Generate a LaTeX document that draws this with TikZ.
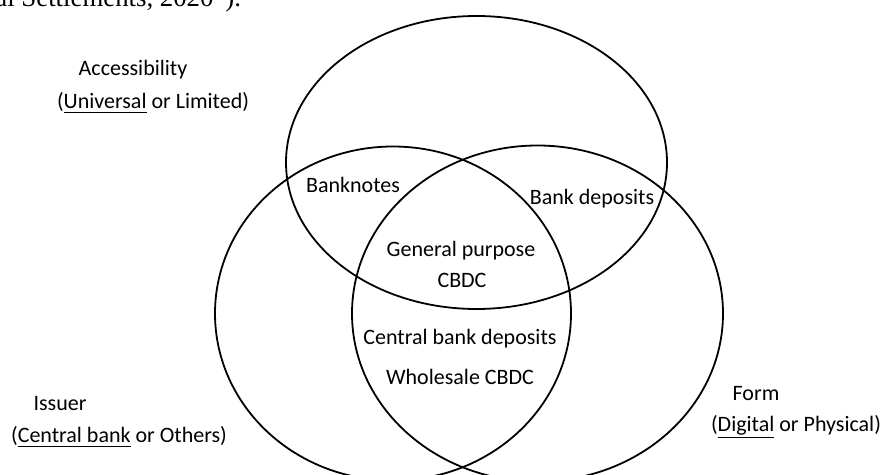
\documentclass[tikz,border=0pt]{standalone}
\usepackage{fontspec}
\setmainfont{Carlito}
\newfontfamily\headserif{Liberation Serif}
\usetikzlibrary{shapes.geometric}
\tikzset{
  setring/.style={draw=black, line width=0.9pt, ellipse, inner sep=0pt, outer sep=0pt},
  lbl/.style={font=\fontsize{11}{13}\selectfont, text=black, inner sep=0pt, align=center}
}
\begin{document}
\begin{tikzpicture}[x=0.5pt, y=-0.5pt]
\useasboundingbox (0,0) rectangle (883,475);
\fill[white] (0,0) rectangle (883,475);
\begin{scope}
\clip (0,0) rectangle (883,475);
\node[anchor=base west, inner sep=0pt, font=\headserif\fontsize{13.4}{15}\selectfont] (head) at (-5,7) {al Settlements, 2020”).};
\node[setring, minimum width=190.5pt, minimum height=146.5pt] (acc) at (476.5,162.5) {};
\node[setring, minimum width=178pt, minimum height=167pt] (iss) at (393,313.5) {};
\node[setring, minimum width=185.5pt, minimum height=168pt] (frm) at (537.5,313.5) {};
\end{scope}
\node[lbl] (accl) at (133,70) {Accessibility};
\node[lbl] (accs) at (153,103) {(\underline{Universal} or Limited)};
\node[lbl] (issl) at (60,404) {Issuer};
\node[lbl] (isss) at (119,437) {(\underline{Central bank} or Others)};
\node[lbl] (frml) at (756,394) {Form};
\node[lbl] (frms) at (796,427) {(\underline{Digital} or Physical)};
\node[lbl] (bn) at (353,185) {Banknotes};
\node[lbl] (bd) at (592,199) {Bank deposits};
\node[lbl] (gp) at (461,251) {General purpose};
\node[lbl] (gpc) at (462,280) {CBDC};
\node[lbl] (cbd) at (460,339) {Central bank deposits};
\node[lbl] (wc) at (460,377) {Wholesale CBDC};
\end{tikzpicture}
\end{document}
